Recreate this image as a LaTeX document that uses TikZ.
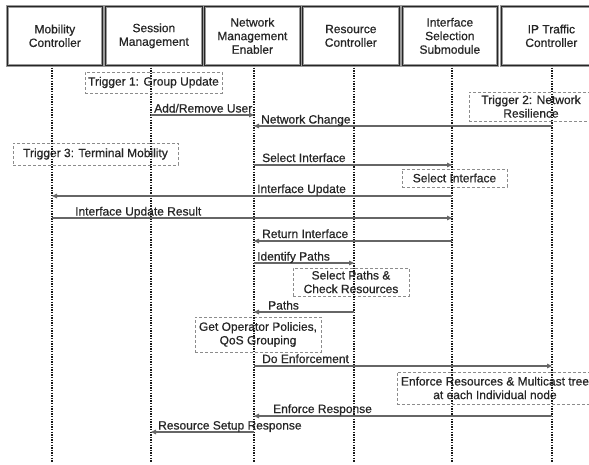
\documentclass[tikz,border=0pt]{standalone}
\usepackage{fontspec}
\setmainfont{Liberation Sans}[FakeBold=0.6]
\usetikzlibrary{arrows.meta}
\begin{document}
\begin{tikzpicture}[x=1pt,y=-1pt,
  txt/.style={font=\fontsize{12}{13.6}\selectfont, text=black!85},
  hdr/.style={txt, draw=black!85, line width=0.7pt, preaction={draw=black!40, line width=3.2pt},
    minimum height=59pt, align=center, inner sep=0pt, anchor=north west},
  life/.style={line width=1.7pt, black!90, dash pattern=on 1.3pt off 1.3pt},
  msg/.style={draw=black!60, line width=1.1pt, -{Triangle[length=5pt,width=4.5pt]}},
  lbl/.style={txt, anchor=base west, inner sep=0pt},
  note/.style={txt, draw=black!45, dash pattern=on 3pt off 2pt, line width=0.8pt, align=center, inner sep=0pt}
]
\useasboundingbox (0,0) rectangle (589,464);
\clip (0,0) rectangle (589,464);
\fill[white] (0,0) rectangle (589,464);

% headers
\node[hdr, minimum width=95pt] (mc)  at (7,6)   {Mobility\\Controller};
\node[hdr, minimum width=97pt] (sm)  at (105,6) {Session\\Management};
\node[hdr, minimum width=96pt] (nme) at (204,6) {Network\\Management\\Enabler};
\node[hdr, minimum width=97pt] (rc)  at (302,6) {Resource\\Controller};
\node[hdr, minimum width=95pt] (iss) at (402,6) {Interface\\Selection\\Submodule};
\node[hdr, minimum width=100pt] (ip) at (501,6) {IP Traffic\\Controller};

% lifeline anchors
\coordinate (l1) at (52,65);
\coordinate (l2) at (151,65);
\coordinate (l3) at (254,65);
\coordinate (l4) at (354,65);
\coordinate (l5) at (452,65);
\coordinate (l6) at (552,65);

% notes
\node[note, minimum width=137pt, minimum height=21pt] (n1) at (153.5,82.5) {Trigger 1: Group Update};
\node[note, minimum width=124pt, minimum height=29pt] (n2) at (531,106.5) {Trigger 2: Network\\Resilience};
\node[note, minimum width=165pt, minimum height=22pt] (n3) at (95.5,154) {Trigger 3: Terminal Mobility};
\node[note, minimum width=105pt, minimum height=18pt] (n4) at (454.5,178) {Select Interface};
\node[note, minimum width=116pt, minimum height=28pt] (n5) at (351,282) {Select Paths \&\\Check Resources};
\node[note, minimum width=126pt, minimum height=35pt] (n6) at (258,334.5) {Get Operator Policies,\\QoS Grouping};
\node[note, minimum width=196pt, minimum height=32pt] (n7) at (495,388) {Enforce Resources \& Multicast tree\\at each Individual node};

% lifelines
\foreach \l in {l1,l2,l3,l4,l5,l6}{
  \draw[life] (\l) -- (\l |- 0,462);
}

% messages
\draw[msg] (l2 |- 0,115) -- (l3 |- 0,115);
\draw[msg] (l6 |- 0,126) -- (l3 |- 0,126);
\draw[msg] (l3 |- 0,165) -- (l5 |- 0,165);
\draw[msg] (l5 |- 0,196) -- (l1 |- 0,196);
\draw[msg] (l1 |- 0,218) -- (l5 |- 0,218);
\draw[msg] (l5 |- 0,241) -- (l3 |- 0,241);
\draw[msg] (l3 |- 0,263) -- (l4 |- 0,263);
\draw[msg] (l4 |- 0,312) -- (l3 |- 0,312);
\draw[msg] (l3 |- 0,366) -- (l6 |- 0,366);
\draw[msg] (l6 |- 0,416) -- (l3 |- 0,416);
\draw[msg] (l3 |- 0,432) -- (l2 |- 0,432);

% labels
\node[lbl] (t1)  at (154,112.5) {Add/Remove User};
\node[lbl] (t2)  at (261,123.5) {Network Change};
\node[lbl] (t3)  at (262,162) {Select Interface};
\node[lbl] (t4)  at (257,193) {Interface Update};
\node[lbl] (t5)  at (75,215.5) {Interface Update Result};
\node[lbl] (t6)  at (262,238) {Return Interface};
\node[lbl] (t7)  at (257,260.5) {Identify Paths};
\node[lbl] (t8)  at (268,309.5) {Paths};
\node[lbl] (t9)  at (262,363) {Do Enforcement};
\node[lbl] (t10) at (273,413) {Enforce Response};
\node[lbl] (t11) at (158,429.5) {Resource Setup Response};
\end{tikzpicture}
\end{document}
